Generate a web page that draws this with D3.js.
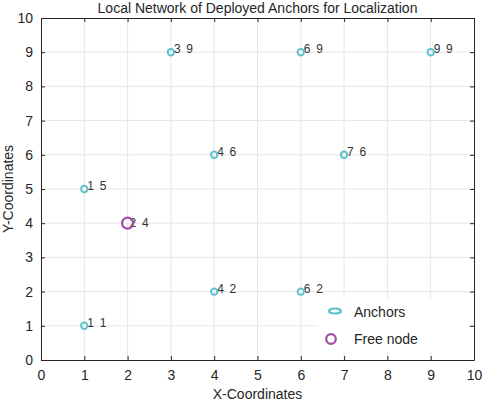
<!DOCTYPE html>
<html>
<head>
<meta charset="utf-8">
<script src="https://cdn.jsdelivr.net/npm/d3@7"></script>
<style>
  body { margin: 0; background: #fff; }
  text { font-family: "Liberation Sans", Arial, sans-serif; }
</style>
</head>
<body>
<svg id="chart" width="485" height="402"></svg>
<script>
// anchor positions
const anchorX = [1, 1, 3, 4, 4, 6, 6, 7, 9];
const anchorY = [1, 5, 9, 2, 6, 2, 9, 6, 9];
// the free node
const freeX = [2];
const freeY = [4];
const ticks = [0, 1, 2, 3, 4, 5, 6, 7, 8, 9, 10];

function drawChart() {
  const svg = d3.select("#chart");
  const left = 41, right = 474, top = 18, bottom = 360;
  const x = d3.scaleLinear().domain([0, 10]).range([left, right]);
  const y = d3.scaleLinear().domain([0, 10]).range([bottom, top]);

  // grid
  const grid = svg.append("g").attr("stroke", "#e6e6e6").attr("stroke-width", 1);
  grid.selectAll("line.gx").data(ticks.slice(1, -1)).enter().append("line")
    .attr("x1", d => x(d)).attr("x2", d => x(d)).attr("y1", top).attr("y2", bottom);
  grid.selectAll("line.gy").data(ticks.slice(1, -1)).enter().append("line")
    .attr("y1", d => y(d)).attr("y2", d => y(d)).attr("x1", left).attr("x2", right);

  // axes, ticks pointing inward on all four sides
  const fmt = d3.format("d");
  const axB = svg.append("g").attr("transform", `translate(0,${bottom})`)
    .call(d3.axisBottom(x).tickValues(ticks).tickFormat(fmt).tickSizeInner(-4).tickSizeOuter(0).tickPadding(8));
  const axL = svg.append("g").attr("transform", `translate(${left},0)`)
    .call(d3.axisLeft(y).tickValues(ticks).tickFormat(fmt).tickSizeInner(-4).tickSizeOuter(0).tickPadding(8));
  const axT = svg.append("g").attr("transform", `translate(0,${top})`)
    .call(d3.axisTop(x).tickValues(ticks).tickFormat("").tickSizeInner(-4).tickSizeOuter(0));
  const axR = svg.append("g").attr("transform", `translate(${right},0)`)
    .call(d3.axisRight(y).tickValues(ticks).tickFormat("").tickSizeInner(-4).tickSizeOuter(0));
  [axB, axL, axT, axR].forEach(a => {
    a.selectAll("path, line").attr("stroke", "#262626");
    a.selectAll("text").attr("fill", "#262626").style("font-size", "14px")
      .style("font-family", "'Liberation Sans', Arial, sans-serif");
  });
  axB.selectAll("text").attr("dy", "0.85em");

  // point labels
  svg.append("g").selectAll("text").data(anchorX).enter().append("text")
    .attr("x", (d, i) => x(d) + 3).attr("y", (d, i) => y(anchorY[i]) + 1)
    .attr("fill", "#333").style("font-size", "12px").style("letter-spacing", "1.2px")
    .text((d, i) => `${d} ${anchorY[i]}`);
  svg.append("g").selectAll("text").data(freeX).enter().append("text")
    .attr("x", (d, i) => x(d) + 2).attr("y", (d, i) => y(freeY[i]) + 4)
    .attr("fill", "#333").style("font-size", "12px").style("letter-spacing", "1.2px")
    .text((d, i) => `${d} ${freeY[i]}`);

  // anchors
  svg.append("g").selectAll("circle").data(anchorX).enter().append("circle")
    .attr("cx", d => x(d)).attr("cy", (d, i) => y(anchorY[i])).attr("r", 3.2)
    .attr("fill", "none").attr("stroke", "#5cc2cb").attr("stroke-width", 2);
  // free node
  svg.append("g").selectAll("circle").data(freeX).enter().append("circle")
    .attr("cx", d => x(d)).attr("cy", (d, i) => y(freeY[i])).attr("r", 5.5)
    .attr("fill", "none").attr("stroke", "#a64ca6").attr("stroke-width", 2.2);

  // legend
  const lg = svg.append("g");
  lg.append("rect").attr("x", 318).attr("y", 298).attr("width", 150).attr("height", 54).attr("fill", "#fff");
  lg.append("ellipse").attr("cx", 335).attr("cy", 311).attr("rx", 6).attr("ry", 2.5)
    .attr("fill", "none").attr("stroke", "#5cc2cb").attr("stroke-width", 2.2);
  lg.append("circle").attr("cx", 331).attr("cy", 339).attr("r", 4.8)
    .attr("fill", "none").attr("stroke", "#a64ca6").attr("stroke-width", 2.2);
  lg.append("text").attr("x", 354).attr("y", 317).attr("fill", "#262626").style("font-size", "14px").text("Anchors");
  lg.append("text").attr("x", 354).attr("y", 344).attr("fill", "#262626").style("font-size", "14px").text("Free node");

  // titles
  svg.append("text").attr("x", (left + right) / 2).attr("y", 13).attr("text-anchor", "middle")
    .attr("fill", "#262626").style("font-size", "14px").text("Local Network of Deployed Anchors for Localization");
  svg.append("text").attr("x", (left + right) / 2).attr("y", 399).attr("text-anchor", "middle")
    .attr("fill", "#262626").style("font-size", "14px").text("X-Coordinates");
  svg.append("text").attr("transform", `translate(13,${(top + bottom) / 2}) rotate(-90)`).attr("text-anchor", "middle")
    .attr("fill", "#262626").style("font-size", "14px").text("Y-Coordinates");
}

window.addEventListener("DOMContentLoaded", drawChart);
</script>
</body>
</html>
